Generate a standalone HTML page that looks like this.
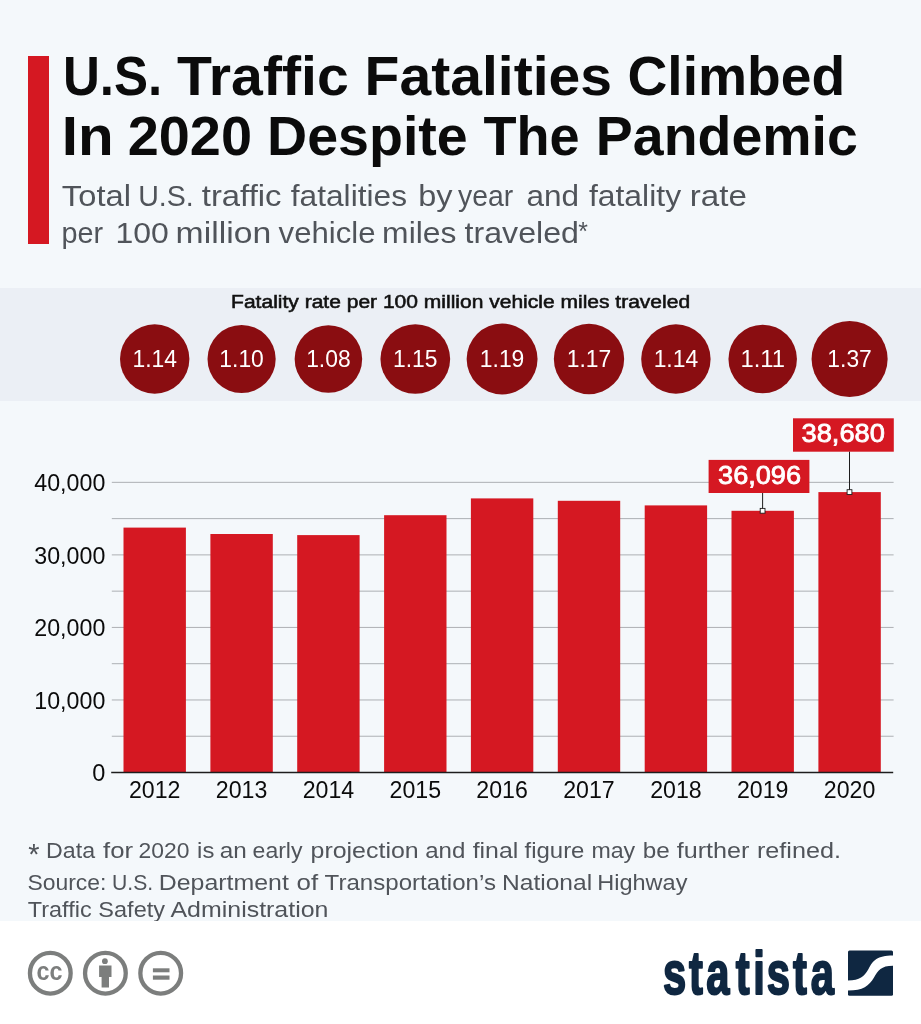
<!DOCTYPE html>
<html lang="en"><head><meta charset="utf-8"><title>U.S. Traffic Fatalities Climbed In 2020 Despite The Pandemic</title>
<style>html,body{margin:0;padding:0;background:#f4f8fb;}body{width:921px;height:1024px;overflow:hidden;font-family:"Liberation Sans",sans-serif;}svg{display:block}</style>
</head><body>
<svg width="921" height="1024" viewBox="0 0 921 1024" font-family="Liberation Sans, sans-serif">
<rect x="0" y="0" width="921" height="1024" fill="#f4f8fb"/>
<rect x="28" y="56" width="21" height="188" fill="#d51822"/>
<text y="95" font-size="56" fill="#0b0b0b" font-weight="bold"><tspan x="63.01" textLength="99.2" lengthAdjust="spacingAndGlyphs">U.S.</tspan> <tspan x="177.0" textLength="171.72" lengthAdjust="spacingAndGlyphs">Traffic</tspan> <tspan x="364.63" textLength="247.38" lengthAdjust="spacingAndGlyphs">Fatalities</tspan> <tspan x="627.48" textLength="217.65" lengthAdjust="spacingAndGlyphs">Climbed</tspan></text>
<text y="155" font-size="56" fill="#0b0b0b" font-weight="bold"><tspan x="61.75" textLength="51.87" lengthAdjust="spacingAndGlyphs">In</tspan> <tspan x="127.76" textLength="124.21" lengthAdjust="spacingAndGlyphs">2020</tspan> <tspan x="267.03" textLength="200.76" lengthAdjust="spacingAndGlyphs">Despite</tspan> <tspan x="483.4" textLength="96.15" lengthAdjust="spacingAndGlyphs">The</tspan> <tspan x="595.83" textLength="261.95" lengthAdjust="spacingAndGlyphs">Pandemic</tspan></text>
<text y="206" font-size="29" fill="#50545a"><tspan x="61.89" textLength="69.17" lengthAdjust="spacingAndGlyphs">Total</tspan> <tspan x="138.21" textLength="55.57" lengthAdjust="spacingAndGlyphs">U.S.</tspan> <tspan x="201.8" textLength="79.71" lengthAdjust="spacingAndGlyphs">traffic</tspan> <tspan x="290.8" textLength="116.19" lengthAdjust="spacingAndGlyphs">fatalities</tspan> <tspan x="418.17" textLength="34.33" lengthAdjust="spacingAndGlyphs">by</tspan> <tspan x="458.0" textLength="55.14" lengthAdjust="spacingAndGlyphs">year</tspan> <tspan x="526.42" textLength="52.55" lengthAdjust="spacingAndGlyphs">and</tspan> <tspan x="588.9" textLength="92.2" lengthAdjust="spacingAndGlyphs">fatality</tspan> <tspan x="689.83" textLength="57.11" lengthAdjust="spacingAndGlyphs">rate</tspan></text>
<text y="243" font-size="29" fill="#50545a"><tspan x="61.4" textLength="41.64" lengthAdjust="spacingAndGlyphs">per</tspan> <tspan x="115.5" textLength="53.29" lengthAdjust="spacingAndGlyphs">100</tspan> <tspan x="175.59" textLength="95.6" lengthAdjust="spacingAndGlyphs">million</tspan> <tspan x="278.6" textLength="96.86" lengthAdjust="spacingAndGlyphs">vehicle</tspan> <tspan x="382.11" textLength="74.28" lengthAdjust="spacingAndGlyphs">miles</tspan> <tspan x="464.6" textLength="114.41" lengthAdjust="spacingAndGlyphs">traveled</tspan><tspan x="578.21" dy="-3.5" font-size="25" textLength="9.64" lengthAdjust="spacingAndGlyphs">*</tspan></text>
<rect x="0" y="288" width="921" height="113" fill="#ebeff5"/>
<text x="460.6" y="308.2" font-size="18" fill="#111" text-anchor="middle" textLength="459" lengthAdjust="spacingAndGlyphs" stroke="#111" stroke-width="0.55">Fatality rate per 100 million vehicle miles traveled</text>
<circle cx="154.7" cy="359" r="34.70" fill="#8a0d11"/>
<text x="154.7" y="367.2" font-size="23.5" fill="#fff" text-anchor="middle" textLength="44.5" lengthAdjust="spacingAndGlyphs">1.14</text>
<circle cx="241.6" cy="359" r="34.09" fill="#8a0d11"/>
<text x="241.6" y="367.2" font-size="23.5" fill="#fff" text-anchor="middle" textLength="44.5" lengthAdjust="spacingAndGlyphs">1.10</text>
<circle cx="328.4" cy="359" r="33.77" fill="#8a0d11"/>
<text x="328.4" y="367.2" font-size="23.5" fill="#fff" text-anchor="middle" textLength="44.5" lengthAdjust="spacingAndGlyphs">1.08</text>
<circle cx="415.3" cy="359" r="34.85" fill="#8a0d11"/>
<text x="415.3" y="367.2" font-size="23.5" fill="#fff" text-anchor="middle" textLength="44.5" lengthAdjust="spacingAndGlyphs">1.15</text>
<circle cx="502.1" cy="359" r="35.45" fill="#8a0d11"/>
<text x="502.1" y="367.2" font-size="23.5" fill="#fff" text-anchor="middle" textLength="44.5" lengthAdjust="spacingAndGlyphs">1.19</text>
<circle cx="589.0" cy="359" r="35.15" fill="#8a0d11"/>
<text x="589.0" y="367.2" font-size="23.5" fill="#fff" text-anchor="middle" textLength="44.5" lengthAdjust="spacingAndGlyphs">1.17</text>
<circle cx="675.9" cy="359" r="34.70" fill="#8a0d11"/>
<text x="675.9" y="367.2" font-size="23.5" fill="#fff" text-anchor="middle" textLength="44.5" lengthAdjust="spacingAndGlyphs">1.14</text>
<circle cx="762.7" cy="359" r="34.24" fill="#8a0d11"/>
<text x="762.7" y="367.2" font-size="23.5" fill="#fff" text-anchor="middle" textLength="44.5" lengthAdjust="spacingAndGlyphs">1.11</text>
<circle cx="849.6" cy="359" r="38.04" fill="#8a0d11"/>
<text x="849.6" y="367.2" font-size="23.5" fill="#fff" text-anchor="middle" textLength="44.5" lengthAdjust="spacingAndGlyphs">1.37</text>
<rect x="111.8" y="735.73" width="781.8" height="1" fill="#adb0b4"/>
<rect x="111.8" y="699.46" width="781.8" height="1" fill="#adb0b4"/>
<rect x="111.8" y="663.19" width="781.8" height="1" fill="#adb0b4"/>
<rect x="111.8" y="626.92" width="781.8" height="1" fill="#adb0b4"/>
<rect x="111.8" y="590.65" width="781.8" height="1" fill="#adb0b4"/>
<rect x="111.8" y="554.38" width="781.8" height="1" fill="#adb0b4"/>
<rect x="111.8" y="518.11" width="781.8" height="1" fill="#adb0b4"/>
<rect x="111.8" y="481.84" width="781.8" height="1" fill="#adb0b4"/>
<text x="105.3" y="781.2" font-size="23.5" fill="#0b0b0b" text-anchor="end">0</text>
<text x="105.3" y="708.7" font-size="23.5" fill="#0b0b0b" text-anchor="end" textLength="71" lengthAdjust="spacingAndGlyphs">10,000</text>
<text x="105.3" y="636.2" font-size="23.5" fill="#0b0b0b" text-anchor="end" textLength="71" lengthAdjust="spacingAndGlyphs">20,000</text>
<text x="105.3" y="563.7" font-size="23.5" fill="#0b0b0b" text-anchor="end" textLength="71" lengthAdjust="spacingAndGlyphs">30,000</text>
<text x="105.3" y="491.2" font-size="23.5" fill="#0b0b0b" text-anchor="end" textLength="71" lengthAdjust="spacingAndGlyphs">40,000</text>
<rect x="123.5" y="527.6" width="62.4" height="244.9" fill="#d51822"/>
<text x="154.7" y="798" font-size="23.5" fill="#0b0b0b" text-anchor="middle" textLength="51.5" lengthAdjust="spacingAndGlyphs">2012</text>
<rect x="210.4" y="534.0" width="62.4" height="238.5" fill="#d51822"/>
<text x="241.6" y="798" font-size="23.5" fill="#0b0b0b" text-anchor="middle" textLength="51.5" lengthAdjust="spacingAndGlyphs">2013</text>
<rect x="297.2" y="535.1" width="62.4" height="237.4" fill="#d51822"/>
<text x="328.4" y="798" font-size="23.5" fill="#0b0b0b" text-anchor="middle" textLength="51.5" lengthAdjust="spacingAndGlyphs">2014</text>
<rect x="384.1" y="515.2" width="62.4" height="257.3" fill="#d51822"/>
<text x="415.3" y="798" font-size="23.5" fill="#0b0b0b" text-anchor="middle" textLength="51.5" lengthAdjust="spacingAndGlyphs">2015</text>
<rect x="470.9" y="498.4" width="62.4" height="274.1" fill="#d51822"/>
<text x="502.1" y="798" font-size="23.5" fill="#0b0b0b" text-anchor="middle" textLength="51.5" lengthAdjust="spacingAndGlyphs">2016</text>
<rect x="557.8" y="500.8" width="62.4" height="271.7" fill="#d51822"/>
<text x="589.0" y="798" font-size="23.5" fill="#0b0b0b" text-anchor="middle" textLength="51.5" lengthAdjust="spacingAndGlyphs">2017</text>
<rect x="644.7" y="505.4" width="62.4" height="267.1" fill="#d51822"/>
<text x="675.9" y="798" font-size="23.5" fill="#0b0b0b" text-anchor="middle" textLength="51.5" lengthAdjust="spacingAndGlyphs">2018</text>
<rect x="731.5" y="510.8" width="62.4" height="261.7" fill="#d51822"/>
<text x="762.7" y="798" font-size="23.5" fill="#0b0b0b" text-anchor="middle" textLength="51.5" lengthAdjust="spacingAndGlyphs">2019</text>
<rect x="818.4" y="492.1" width="62.4" height="280.4" fill="#d51822"/>
<text x="849.6" y="798" font-size="23.5" fill="#0b0b0b" text-anchor="middle" textLength="51.5" lengthAdjust="spacingAndGlyphs">2020</text>
<rect x="111.2" y="771.75" width="782" height="1.5" fill="#1d1d1d"/>
<rect x="708.6" y="459.9" width="100.8" height="33.1" fill="#d51822"/>
<rect x="762.1" y="493.0" width="1" height="17.8" fill="#1d1d1d"/>
<rect x="760.2" y="508.4" width="4.8" height="4.8" fill="#fff" stroke="#1d1d1d" stroke-width="0.9"/>
<text x="718.05" y="484.0" font-size="25.5" fill="#fff" stroke="#fff" stroke-width="0.8" textLength="82.95" lengthAdjust="spacingAndGlyphs">36,096</text>
<rect x="793.0" y="418.3" width="100.8" height="33.4" fill="#d51822"/>
<rect x="849.0" y="451.7" width="1" height="40.4" fill="#1d1d1d"/>
<rect x="847.1" y="489.7" width="4.8" height="4.8" fill="#fff" stroke="#1d1d1d" stroke-width="0.9"/>
<text x="801.55" y="442.4" font-size="25.5" fill="#fff" stroke="#fff" stroke-width="0.8" textLength="83.33" lengthAdjust="spacingAndGlyphs">38,680</text>
<text y="864.3" font-size="30" fill="#50545a"><tspan x="28.35" textLength="11.26" lengthAdjust="spacingAndGlyphs">*</tspan></text>
<text y="857.5" font-size="21.5" fill="#50545a"><tspan x="46.09" textLength="48.96" lengthAdjust="spacingAndGlyphs">Data</tspan> <tspan x="103.1" textLength="30.03" lengthAdjust="spacingAndGlyphs">for</tspan> <tspan x="138.53" textLength="50.94" lengthAdjust="spacingAndGlyphs">2020</tspan> <tspan x="197.11" textLength="17.24" lengthAdjust="spacingAndGlyphs">is</tspan> <tspan x="219.84" textLength="27.02" lengthAdjust="spacingAndGlyphs">an</tspan> <tspan x="252.58" textLength="49.92" lengthAdjust="spacingAndGlyphs">early</tspan> <tspan x="310.54" textLength="108.16" lengthAdjust="spacingAndGlyphs">projection</tspan> <tspan x="425.25" textLength="40.1" lengthAdjust="spacingAndGlyphs">and</tspan> <tspan x="472.7" textLength="45.64" lengthAdjust="spacingAndGlyphs">final</tspan> <tspan x="524.5" textLength="59.97" lengthAdjust="spacingAndGlyphs">figure</tspan> <tspan x="591.45" textLength="43.75" lengthAdjust="spacingAndGlyphs">may</tspan> <tspan x="642.88" textLength="27.0" lengthAdjust="spacingAndGlyphs">be</tspan> <tspan x="676.7" textLength="72.72" lengthAdjust="spacingAndGlyphs">further</tspan> <tspan x="756.93" textLength="84.05" lengthAdjust="spacingAndGlyphs">refined.</tspan></text>
<text y="889.7" font-size="21.5" fill="#50545a"><tspan x="27.48" textLength="78.99" lengthAdjust="spacingAndGlyphs">Source:</tspan> <tspan x="112.08" textLength="41.13" lengthAdjust="spacingAndGlyphs">U.S.</tspan> <tspan x="158.75" textLength="130.16" lengthAdjust="spacingAndGlyphs">Department</tspan> <tspan x="296.49" textLength="21.62" lengthAdjust="spacingAndGlyphs">of</tspan> <tspan x="324.62" textLength="171.33" lengthAdjust="spacingAndGlyphs">Transportation’s</tspan> <tspan x="502.08" textLength="90.03" lengthAdjust="spacingAndGlyphs">National</tspan> <tspan x="597.26" textLength="90.14" lengthAdjust="spacingAndGlyphs">Highway</tspan></text>
<text y="916.7" font-size="21.5" fill="#50545a"><tspan x="27.83" textLength="63.83" lengthAdjust="spacingAndGlyphs">Traffic</tspan> <tspan x="98.37" textLength="66.63" lengthAdjust="spacingAndGlyphs">Safety</tspan> <tspan x="170.5" textLength="157.9" lengthAdjust="spacingAndGlyphs">Administration</tspan></text>
<rect x="0" y="921" width="921" height="103" fill="#fff"/>
<circle cx="50.3" cy="973.2" r="20.35" fill="none" stroke="#7c7e7d" stroke-width="4.3"/>
<circle cx="105.4" cy="973.2" r="20.35" fill="none" stroke="#7c7e7d" stroke-width="4.3"/>
<circle cx="160.7" cy="973.2" r="20.35" fill="none" stroke="#7c7e7d" stroke-width="4.3"/>
<text x="49.6" y="979.7" font-size="26" fill="#7c7e7d" font-weight="bold" text-anchor="middle" textLength="26" lengthAdjust="spacingAndGlyphs">cc</text>
<circle cx="104.9" cy="961.2" r="2.9" fill="#7c7e7d"/><path d="M99.1 965.4h12.4v11.7h-2.5v10.4h-7.4v-10.4h-2.5z" fill="#7c7e7d"/>
<rect x="152.9" y="968.3" width="16.6" height="4" fill="#7c7e7d"/><rect x="152.9" y="975.5" width="16.6" height="4.2" fill="#7c7e7d"/>
<text transform="translate(0,994.2) scale(0.69,1)" x="961.0 998.6 1023.4 1066.3 1091.7 1111.1 1149.2 1174.9" y="0" font-size="60.5" font-weight="bold" fill="#0f2741" stroke="#0f2741" stroke-width="1.8" stroke-linejoin="round" vector-effect="non-scaling-stroke">statista</text>
<g transform="translate(848,950.6)"><rect width="45" height="45.1" rx="1.5" fill="#0f2741"/><path d="M0 30 C12 30 16 26 20.5 18.5 C25 10 29 5 45 5 L45 15.2 C33 15.2 30 20 26 27 C21 35.5 15 40 0 40 Z" fill="#fff"/></g>
</svg>
</body></html>
